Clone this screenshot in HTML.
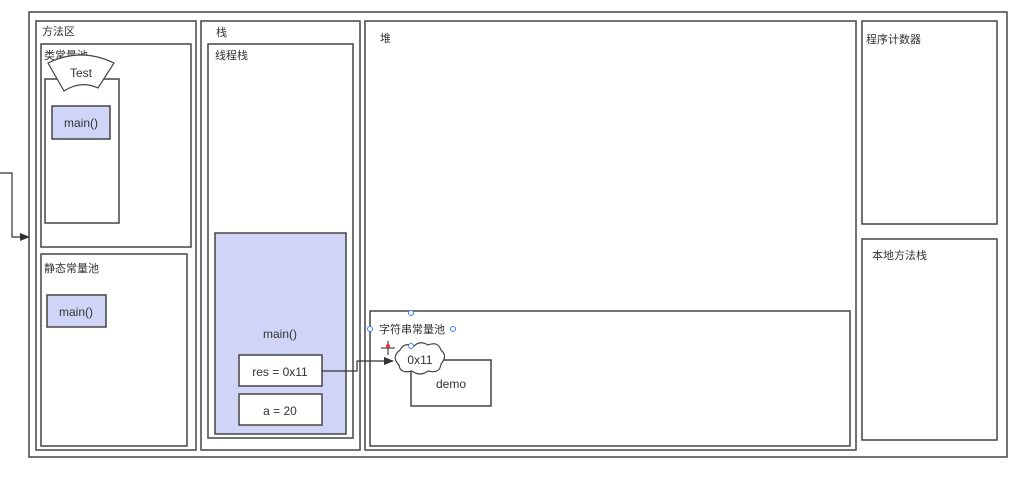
<!DOCTYPE html>
<html><head><meta charset="utf-8"><style>
body{margin:0;background:#fff}
svg{display:block}
text{font-family:"Liberation Sans","Noto Sans CJK SC",sans-serif;font-size:11px;fill:#333}
.b{font-size:12px}
</style></head><body>
<svg width="1034" height="488" viewBox="0 0 1034 488">
<defs><marker id="ar" markerWidth="10" markerHeight="8" refX="9" refY="4" orient="auto" markerUnits="userSpaceOnUse"><path d="M0,0 L10,4 L0,8 Z" fill="#333"/></marker></defs>
<g fill="none" stroke="#444" stroke-width="1.5">
<rect x="29" y="12" width="978" height="445"/>
<rect x="36" y="21" width="160" height="429"/>
<rect x="41" y="44" width="150" height="203"/>
<rect x="45" y="79" width="74" height="144" fill="#fff"/>
<rect x="41" y="254" width="146" height="192"/>
<rect x="201" y="21" width="159" height="429"/>
<rect x="208" y="44" width="145" height="394"/>
<rect x="365" y="21" width="491" height="429"/>
<rect x="370" y="311" width="480" height="135"/>
<rect x="862" y="21" width="135" height="203"/>
<rect x="862" y="239" width="135" height="201"/>
</g>
<rect x="215" y="233" width="131" height="201" fill="#d0d4f7" stroke="#444" stroke-width="1.5"/>
<rect x="52" y="106" width="58" height="33" fill="#d0d4f7" stroke="#444" stroke-width="1.5"/>
<rect x="47" y="295" width="59" height="32" fill="#d0d4f7" stroke="#444" stroke-width="1.5"/>
<rect x="239" y="355" width="83" height="31" fill="#fff" stroke="#444" stroke-width="1.5"/>
<rect x="239" y="394" width="83" height="31" fill="#fff" stroke="#444" stroke-width="1.5"/>
<rect x="411" y="360" width="80" height="46" fill="#fff" stroke="#444" stroke-width="1.5"/>
<text x="42" y="35">方法区</text>
<text x="44" y="59">类常量池</text>
<path d="M48,63 Q81,47 114,63 L98,88 Q81,80 64,91 Z" fill="#fff" stroke="#444" stroke-width="1.2"/>
<text class="b" x="81" y="77" text-anchor="middle">Test</text>
<text class="b" x="81" y="127" text-anchor="middle">main()</text>
<text x="44" y="272">静态常量池</text>
<text class="b" x="76" y="316" text-anchor="middle">main()</text>
<text x="216" y="36">栈</text>
<text x="215" y="59">线程栈</text>
<text class="b" x="280" y="338" text-anchor="middle">main()</text>
<text class="b" x="280" y="376" text-anchor="middle">res = 0x11</text>
<text class="b" x="280" y="415" text-anchor="middle">a = 20</text>
<text x="380" y="42">堆</text>
<text x="379" y="333">字符串常量池</text>
<text x="866" y="43">程序计数器</text>
<text x="872" y="259">本地方法栈</text>
<path d="M400,350 Q404,342 414,346 Q420,340 428,345 Q438,341 441,350 Q448,356 441,364 Q440,374 428,371 Q420,377 412,371 Q400,374 399,365 Q391,357 400,350 Z" fill="#fff" stroke="#444" stroke-width="1.2"/>
<text class="b" x="420" y="364" text-anchor="middle">0x11</text>
<text class="b" x="451" y="388" text-anchor="middle">demo</text>
<g fill="#fff" stroke="#3b82f6" stroke-width="1"><circle cx="411" cy="313" r="2.5"/><circle cx="370" cy="329" r="2.5"/><circle cx="453" cy="329" r="2.5"/><circle cx="411" cy="346" r="2.5"/></g>
<path d="M381,348 H395 M388,341 V355" stroke="#222" stroke-width="1"/><circle cx="388" cy="346" r="2" fill="#e33"/>
<path d="M322,371 H357 V361 H393" fill="none" stroke="#333" stroke-width="1.2" marker-end="url(#ar)"/>
<path d="M0,173 H12 V237 H29" fill="none" stroke="#333" stroke-width="1.2" marker-end="url(#ar)"/>
</svg>
</body></html>
